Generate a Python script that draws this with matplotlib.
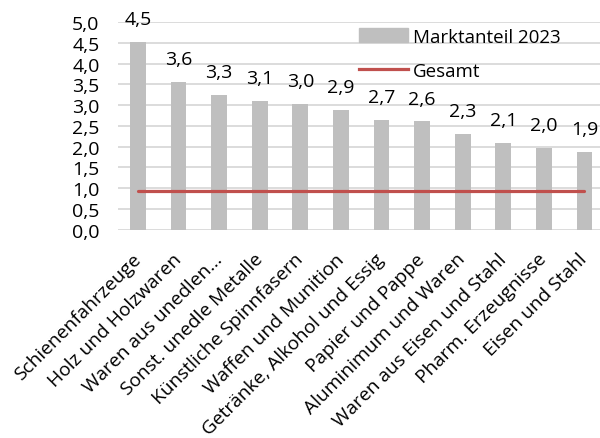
import matplotlib
matplotlib.use("Agg")
import matplotlib.pyplot as plt
from matplotlib.patches import Patch
from matplotlib.lines import Line2D

plt.rcParams['font.family'] = ['Open Sans', 'DejaVu Sans']

kategorien = [
    "Schienenfahrzeuge", "Holz und Holzwaren", "Waren aus unedlen...",
    "Sonst. unedle Metalle", "Künstliche Spinnfasern", "Waffen und Munition",
    "Getränke, Alkohol und Essig", "Papier und Pappe", "Aluminimum und Waren",
    "Waren aus Eisen und Stahl", "Pharm. Erzeugnisse", "Eisen und Stahl",
]
marktanteil = [4.52, 3.57, 3.25, 3.1, 3.02, 2.89, 2.65, 2.61, 2.31, 2.09, 1.98, 1.88]
labels = ["4,5", "3,6", "3,3", "3,1", "3,0", "2,9", "2,7", "2,6", "2,3", "2,1", "2,0", "1,9"]
gesamt = 0.94
y_ticks = [0.0, 0.5, 1.0, 1.5, 2.0, 2.5, 3.0, 3.5, 4.0, 4.5, 5.0]

fig = plt.figure(figsize=(6, 4.39), dpi=100)
ax = fig.add_axes([0.196, 0.4745, 0.812, 0.4725])

x = list(range(len(kategorien)))
ax.bar(x, marktanteil, width=0.39, color='#bfbfbf', zorder=2)
ax.plot([x[0], x[-1]], [gesamt, gesamt], color='#c0504d', lw=2.3, zorder=3,
        solid_capstyle='round')

for xi, v, lab in zip(x, marktanteil, labels):
    ax.annotate(lab, (xi, v), xytext=(0, 16.5), textcoords='offset points',
                ha='center', va='center', fontsize=14, annotation_clip=False)

ax.set_xlim(-0.5, len(kategorien) - 0.5)
ax.set_ylim(0, 5)
ax.set_yticks(y_ticks)
ax.set_yticklabels([f"{t:.1f}".replace('.', ',') for t in y_ticks], fontsize=14)
ax.yaxis.grid(True, color='#d9d9d9', lw=1.3, zorder=0)
ax.set_axisbelow(True)
ax.tick_params(axis='y', length=0, pad=13)
ax.tick_params(axis='x', length=0, pad=19)
ax.set_xticks(x)
ax.set_xticklabels(kategorien, rotation=45, ha='right', va='center',
                   rotation_mode='anchor', fontsize=13.8)
for s in ax.spines.values():
    s.set_visible(False)

handles = [Patch(color='#bfbfbf'), Line2D([0], [0], color='#c0504d', lw=2.3)]
fig.legend(handles, ["Marktanteil 2023", "Gesamt"], loc='upper left',
           bbox_to_anchor=(0.586, 0.952), frameon=False, fontsize=13.5,
           handlelength=2.6, handletextpad=0.25, labelspacing=0.85,
           borderaxespad=0)

fig.savefig("out.png", dpi=100)
